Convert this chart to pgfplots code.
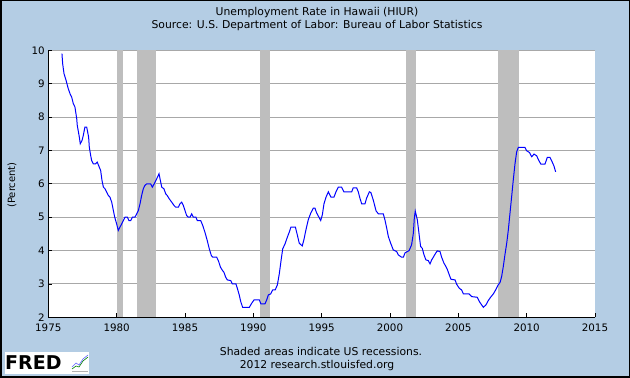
\documentclass[border=0pt]{standalone}
\usepackage{pgfplots}
\pgfplotsset{compat=1.18}
\usepackage{fontspec}
\setmainfont{DejaVu Sans}
\definecolor{fredbg}{RGB}{180,205,228}
\definecolor{recgray}{RGB}{190,190,190}
\definecolor{gridgray}{RGB}{168,168,168}
\begin{document}
\begin{tikzpicture}[x=1pt,y=1pt]
\fill[fredbg] (0,0) rectangle (630,378);
\draw[black,line width=1.5pt] (0.75,0.75) rectangle (629.25,377.25);
\begin{axis}[
  at={(48.3pt,60.7pt)}, anchor=south west, scale only axis,
  width=546.7pt, height=267pt,
  xmin=1975, xmax=2015, ymin=2, ymax=10,
  axis background/.style={fill=white},
  axis x line*=bottom, axis y line*=left,
  axis line style={black,line width=1pt},
  xtick={1975,1980,...,2015}, ytick={2,3,...,10},
  tick align=inside, major tick length=4pt,
  tick style={black,line width=0.8pt},
  ymajorgrids, grid style={gridgray,line width=0.9pt},
  /pgf/number format/1000 sep={},
  /pgf/number format/assume math mode=true,
  ticklabel style={font=\fontsize{10.3}{12}\selectfont},
  xticklabel style={yshift=-3pt},
  clip=true,
]
\addplot[fill=recgray,draw=none] coordinates {(1980.0,2)(1980.0,10)(1980.5,10)(1980.5,2)} -- cycle;
\addplot[fill=recgray,draw=none] coordinates {(1981.5,2)(1981.5,10)(1982.87,10)(1982.87,2)} -- cycle;
\addplot[fill=recgray,draw=none] coordinates {(1990.5,2)(1990.5,10)(1991.2,10)(1991.2,2)} -- cycle;
\addplot[fill=recgray,draw=none] coordinates {(2001.17,2)(2001.17,10)(2001.88,10)(2001.88,2)} -- cycle;
\addplot[fill=recgray,draw=none] coordinates {(2007.92,2)(2007.92,10)(2009.45,10)(2009.45,2)} -- cycle;
\addplot[blue,line width=1pt] coordinates {
(1976.0,9.9)(1976.05,9.6)(1976.15,9.3)(1976.3,9.1)(1976.46,8.85)(1976.59,8.7)(1976.71,8.6)(1976.83,8.4)(1976.95,8.3)
(1977.08,7.95)(1977.12,7.75)(1977.25,7.45)(1977.34,7.2)(1977.47,7.3)(1977.56,7.45)(1977.68,7.7)(1977.81,7.7)(1977.95,7.4)
(1978.0,7.1)(1978.1,6.85)(1978.17,6.7)(1978.29,6.6)(1978.46,6.6)(1978.58,6.65)(1978.73,6.5)(1978.83,6.4)(1978.93,6.1)
(1979.03,5.9)(1979.15,5.85)(1979.27,5.75)(1979.39,5.65)(1979.51,5.6)(1979.64,5.45)(1979.76,5.2)(1979.86,5.0)
(1980.0,4.8)(1980.12,4.6)(1980.24,4.7)(1980.37,4.8)(1980.49,4.9)(1980.61,5.0)(1980.78,5.0)(1980.9,4.9)
(1981.03,4.9)(1981.15,5.0)(1981.34,5.0)(1981.47,5.1)(1981.59,5.2)(1981.71,5.4)(1981.83,5.65)(1981.95,5.85)
(1982.07,5.95)(1982.2,6.0)(1982.49,6.0)(1982.61,5.9)(1982.75,6.0)(1982.93,6.15)
(1983.1,6.3)(1983.15,6.2)(1983.3,5.9)(1983.46,5.85)(1983.59,5.7)(1983.7,5.65)(1983.85,5.55)
(1984.03,5.45)(1984.2,5.35)(1984.32,5.3)(1984.52,5.3)(1984.63,5.4)(1984.76,5.45)(1984.88,5.35)
(1985.0,5.2)(1985.12,5.05)(1985.24,5.0)(1985.37,5.0)(1985.49,5.1)(1985.61,5.0)(1985.8,5.0)(1985.9,4.9)
(1986.15,4.9)(1986.3,4.75)(1986.46,4.55)(1986.63,4.3)(1986.78,4.05)(1986.93,3.85)
(1987.03,3.8)(1987.32,3.8)(1987.44,3.7)(1987.6,3.5)(1987.75,3.4)(1987.85,3.35)(1987.98,3.2)
(1988.1,3.12)(1988.35,3.1)(1988.46,3.0)(1988.73,3.0)(1988.83,2.87)(1988.97,2.67)
(1989.08,2.47)(1989.22,2.3)(1989.71,2.3)(1989.88,2.42)
(1990.05,2.52)(1990.44,2.52)(1990.56,2.4)(1990.85,2.4)(1990.98,2.52)
(1991.1,2.67)(1991.27,2.7)(1991.42,2.82)(1991.6,2.82)(1991.76,2.97)(1991.9,3.3)
(1992.03,3.7)(1992.15,4.05)(1992.32,4.2)(1992.49,4.4)(1992.63,4.55)(1992.75,4.7)
(1993.08,4.7)(1993.22,4.47)(1993.36,4.22)(1993.58,4.14)(1993.7,4.32)(1993.85,4.62)
(1994.02,4.92)(1994.2,5.12)(1994.39,5.27)(1994.51,5.27)(1994.63,5.13)(1994.8,5.0)(1994.93,4.9)
(1995.05,5.07)(1995.17,5.4)(1995.32,5.6)(1995.49,5.76)(1995.68,5.6)(1995.9,5.6)
(1996.05,5.76)(1996.22,5.9)(1996.46,5.9)(1996.63,5.76)
(1997.2,5.76)(1997.31,5.88)(1997.56,5.88)(1997.68,5.76)(1997.8,5.57)(1997.93,5.4)
(1998.17,5.4)(1998.29,5.57)(1998.49,5.76)(1998.6,5.74)(1998.78,5.51)(1998.98,5.19)
(1999.15,5.1)(1999.51,5.1)(1999.63,4.92)(1999.76,4.67)(1999.88,4.42)
(2000.05,4.22)(2000.24,4.02)(2000.49,3.97)(2000.61,3.87)(2000.85,3.8)(2000.98,3.8)
(2001.1,3.93)(2001.4,4.0)(2001.58,4.17)(2001.71,4.52)(2001.78,4.97)(2001.85,5.18)
(2002.0,4.92)(2002.12,4.52)(2002.24,4.12)(2002.36,4.07)(2002.49,3.87)(2002.63,3.72)(2002.8,3.7)(2002.93,3.6)
(2003.05,3.72)(2003.17,3.8)(2003.34,3.92)(2003.46,3.99)(2003.66,3.97)(2003.78,3.8)(2003.95,3.62)
(2004.07,3.54)(2004.19,3.44)(2004.34,3.27)(2004.46,3.14)(2004.76,3.12)(2004.88,2.99)
(2005.07,2.87)(2005.24,2.82)(2005.37,2.70)(2005.78,2.70)(2005.98,2.62)
(2006.39,2.60)(2006.54,2.47)(2006.71,2.37)(2006.83,2.30)
(2007.02,2.37)(2007.19,2.50)(2007.36,2.60)(2007.56,2.70)(2007.76,2.84)(2007.93,2.98)
(2008.05,3.04)(2008.17,3.22)(2008.29,3.52)(2008.41,3.87)(2008.54,4.22)(2008.66,4.62)(2008.78,5.12)(2008.9,5.61)
(2009.02,6.11)(2009.15,6.61)(2009.27,6.96)(2009.39,7.09)(2009.88,7.09)
(2010.0,6.99)(2010.2,6.94)(2010.37,6.81)(2010.54,6.89)(2010.73,6.84)(2010.9,6.69)
(2011.04,6.59)(2011.34,6.59)(2011.51,6.79)(2011.71,6.79)(2011.83,6.69)
(2012.0,6.53)(2012.12,6.36)
};
\end{axis}
\node[font=\fontsize{10.8}{12}\selectfont] at (317,365.5) {Unemployment Rate in Hawaii (HIUR)};
\node[font=\fontsize{10.8}{12}\selectfont] at (317,352) {Source: U.S. Department of Labor: Bureau of Labor Statistics};
\node[font=\fontsize{10}{11}\selectfont,rotate=90] at (12,193) {(Percent)};
\node[font=\fontsize{10.8}{12}\selectfont] at (321,26.5) {Shaded areas indicate US recessions.};
\node[font=\fontsize{10.8}{12}\selectfont] at (317,12.5) {2012 research.stlouisfed.org};
\fill[white] (5,4) rectangle (89,26);
\node[font=\fontsize{19}{20}\bfseries,anchor=west,inner sep=0pt] at (5,15) {FRED};
\draw[gray!60,line width=0.5pt] (72,7) -- (88,7);
\draw[green!50!black,line width=0.6pt] (72,9) -- (76,12) -- (79,11) -- (83,17) -- (88,21);
\draw[blue!60,line width=0.6pt] (72,11) -- (76,15) -- (79,13) -- (83,19) -- (88,23);
\end{tikzpicture}
\end{document}
